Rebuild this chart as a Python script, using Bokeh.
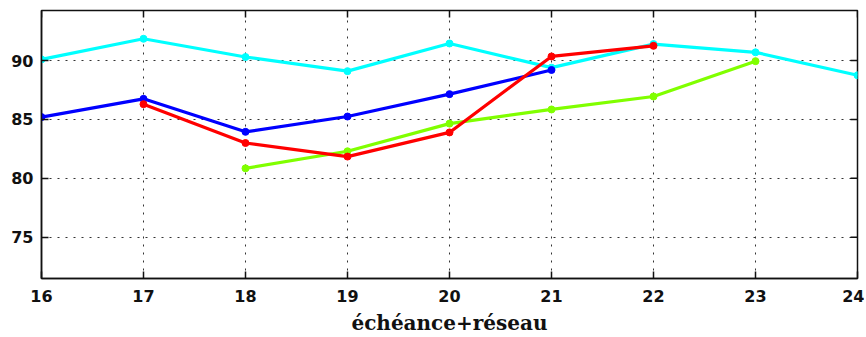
import math
from bokeh.plotting import figure
from bokeh.models import FixedTicker, Range1d
from bokeh.embed import file_html
from bokeh.resources import INLINE

x_ticks = [16, 17, 18, 19, 20, 21, 22, 23, 24]
y_ticks = [75, 80, 85, 90]
x_lo, x_hi = 16, 24
y_lo, y_hi = 71.5, 94.25

cyan_x = [16, 17, 18, 19, 20, 21, 22, 23, 24]
cyan_y = [90.1, 91.85, 90.3, 89.1, 91.45, 89.4, 91.4, 90.7, 88.75]

blue_x = [16, 17, 18, 19, 20, 21]
blue_y = [85.2, 86.75, 83.95, 85.25, 87.15, 89.2]

red_x = [17, 18, 19, 20, 21, 22]
red_y = [86.3, 83.0, 81.85, 83.9, 90.35, 91.25]

green_x = [18, 19, 20, 21, 22, 23]
green_y = [80.85, 82.3, 84.65, 85.85, 86.95, 89.95]

series = [
    (cyan_x, cyan_y, "#00FFFF"),
    (blue_x, blue_y, "#0000FF"),
    (green_x, green_y, "#80FF00"),
    (red_x, red_y, "#FF0000"),
]

p = figure(width=864, height=337, output_backend="svg", toolbar_location=None,
           x_range=Range1d(x_lo, x_hi), y_range=Range1d(y_lo, y_hi),
           min_border_left=41, min_border_right=7, min_border_top=10, min_border_bottom=58)

p.background_fill_color = "white"
p.border_fill_color = "white"
p.outline_line_color = "#111111"
p.outline_line_width = 1.5

for g in [p.xgrid[0], p.ygrid[0]]:
    g.grid_line_color = "#333333"
    g.grid_line_dash = "2 6"
    g.grid_line_width = 1
p.xgrid[0].ticker = FixedTicker(ticks=x_ticks)
p.ygrid[0].ticker = FixedTicker(ticks=y_ticks)

# inward ticks on top and right sides (matplotlib classic style)
p.ray(x=x_ticks, y=[y_hi] * len(x_ticks), length=7, length_units="screen",
      angle=-math.pi / 2, line_color="#111111", line_width=1.5)
p.ray(x=[x_hi] * len(y_ticks), y=y_ticks, length=7, length_units="screen",
      angle=math.pi, line_color="#111111", line_width=1.5)

for xs, ys, c in series:
    p.line(xs, ys, line_color=c, line_width=3.2)
    p.scatter(xs, ys, size=7, fill_color=c, line_color=c)

for ax in [p.xaxis[0], p.yaxis[0]]:
    ax.major_tick_in = 7
    ax.major_tick_out = 0
    ax.minor_tick_line_color = None
    ax.axis_line_color = "#111111"
    ax.axis_line_width = 1.5
    ax.major_tick_line_color = "#111111"
    ax.major_tick_line_width = 1.5
    ax.major_label_text_font = "DejaVu Sans"
    ax.major_label_text_font_style = "bold"
    ax.major_label_text_font_size = "16px"
    ax.major_label_text_color = "#111111"

p.xaxis[0].ticker = FixedTicker(ticks=x_ticks)
p.yaxis[0].ticker = FixedTicker(ticks=y_ticks)
p.xaxis[0].major_label_standoff = 11
p.yaxis[0].major_label_standoff = 8
p.xaxis[0].axis_label = "échéance+réseau"
p.xaxis[0].axis_label_text_font = "DejaVu Serif"
p.xaxis[0].axis_label_text_font_style = "bold"
p.xaxis[0].axis_label_text_font_size = "20px"
p.xaxis[0].axis_label_text_color = "#111111"
p.xaxis[0].axis_label_standoff = 6

open("out.html", "w").write(file_html(p, INLINE))
